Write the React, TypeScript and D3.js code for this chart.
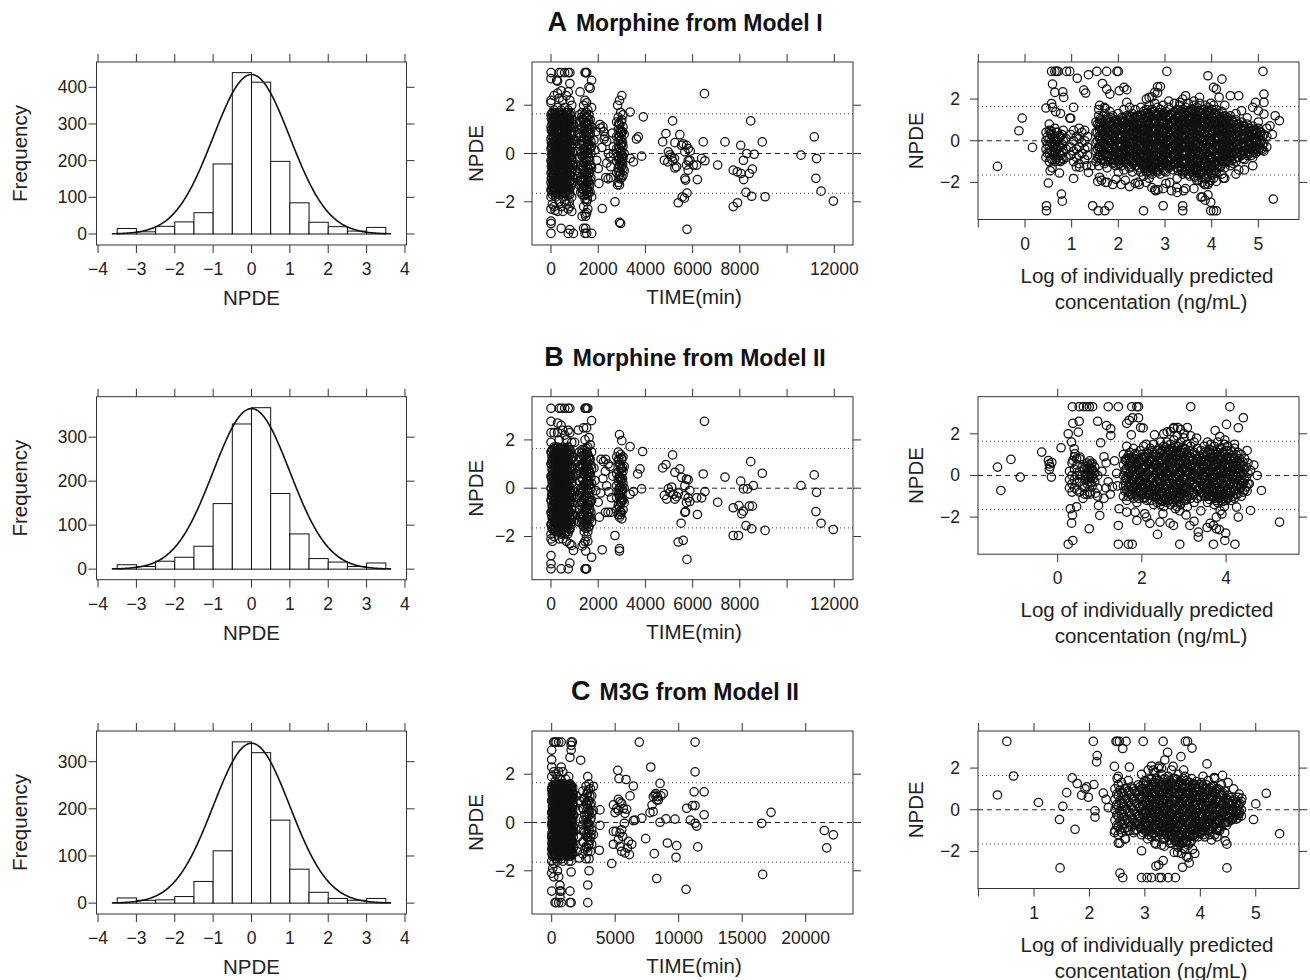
import React from "react";
import * as d3 from "d3";

// ---------------- DATA ----------------
const HIST_BREAKS = [-3.5, -3, -2.5, -2, -1.5, -1, -0.5, 0, 0.5, 1, 1.5, 2, 2.5, 3, 3.5];
const HIST_COUNTS_A = [15, 6, 21, 33, 58, 191, 440, 414, 198, 85, 32, 20, 8, 18];
const HIST_COUNTS_B = [10, 6, 18, 27, 52, 149, 330, 367, 172, 80, 24, 16, 6, 14];
const HIST_COUNTS_C = [11, 6, 7, 14, 46, 111, 342, 319, 176, 72, 23, 10, 6, 10];
const CURVE_PEAK_A = 435;
const CURVE_PEAK_B = 365;
const CURVE_PEAK_C = 339;
const CURVE_RANGE = [-3.64, 3.65];

const HIST_X_TICKS = [-4, -3, -2, -1, 0, 1, 2, 3, 4];
const FREQ_TICKS_A = [0, 100, 200, 300, 400];
const FREQ_TICKS_BC = [0, 100, 200, 300];
const NPDE_TICKS = [-2, 0, 2];
const TIME_TICKS_AB = [0, 2000, 4000, 6000, 8000, 10000, 12000];
const TIME_LABELS_AB = ["0", "2000", "4000", "6000", "8000", "", "12000"];
const TIME_TICKS_C = [0, 5000, 10000, 15000, 20000];
const TIME_LABELS_C = ["0", "5000", "10000", "15000", "20000"];
const LOGC_TICKS_A = [-1, 0, 1, 2, 3, 4, 5];
const LOGC_LABELS_A = ["", "0", "1", "2", "3", "4", "5"];
const LOGC_TICKS_B = [0, 2, 4];
const LOGC_LABELS_B = ["0", "2", "4"];
const LOGC_TICKS_C = [0, 1, 2, 3, 4, 5];
const LOGC_LABELS_C = ["", "1", "2", "3", "4", "5"];
const NPDE_REF = 1.645;

// columns: [x, npde, npde, ...]
const TIME_NPDE_A: number[][] = [
  [0, 3.35, 3.1, 2.2, 2.1, 1.6, 1.1, 0.6, 0.2, -0.3, -0.8, -1.2, -1.5, -1.8, -2.3, -2.8, -2.9, -3.31],
  [30, 1.0, 0.3, -0.4, -1.0],
  [60, 1.7, 1.3, 0.9, 0.4, 0, -0.5, -0.9, -1.4, -1.7, -2.1],
  [100, 1.5, 0.6, -0.1, -0.6, -1.2],
  [130, 2.4, 1.8, 1.4, 1.0, 0.5, 0.1, -0.3, -0.7, -1.1, -1.6, -2.2],
  [170, 1.1, 0.3, -0.4, -1.5, -2.35],
  [200, 1.6, 1.2, 0.7, 0.3, -0.2, -0.6, -1.0, -1.3, -1.8],
  [240, 3.03, 1.3, 0.9, 0.2, -0.5, -1.2],
  [280, 3.0, 2.5, 1.9, 1.5, 1.0, 0.6, 0.0, -0.4, -0.9, -1.4, -1.7, -2.4],
  [320, 1.4, 0.5, -0.3, -0.8, -1.4],
  [350, 3.35, 2.3, 1.7, 1.2, 0.8, 0.3, -0.1, -0.5, -1.2, -1.6, -2.0],
  [390, 1.5, 0.6, 0.1, -0.8, -1.3],
  [430, 3.35, 2.6, 1.8, 1.4, 0.9, 0.4, 0.0, -0.6, -1.0, -1.5, -2.2, -3.1],
  [470, 1.2, 0.4, -0.3, -1.2],
  [500, 2.2, 1.6, 1.1, 0.7, 0.2, -0.3, -0.8, -1.3, -1.8, -2.4],
  [540, 1.4, 0.5, -0.1, -1.0, -1.6],
  [580, 3.35, 1.9, 1.5, 1.0, 0.5, 0.1, -0.4, -0.9, -1.4, -2.0],
  [620, 1.2, 0.7, -0.1, -0.6, -1.2],
  [650, 2.4, 1.7, 1.3, 0.8, 0.3, -0.2, -0.7, -1.1, -1.6, -2.1],
  [690, 1.5, 0.9, 0.1, -0.4, -1.3],
  [730, 3.35, 2.55, 1.8, 1.2, 0.6, 0.0, -0.5, -1.0, -1.5, -2.3, -3.31],
  [770, 1.4, 0.3, -0.2, -1.2, -2.0],
  [800, 3.35, 2.9, 2.2, 1.6, 1.1, 0.5, 0.1, -0.4, -0.9, -1.7, -2.2, -3.15],
  [840, 1.7, 0.8, -0.1, -0.6, -1.1],
  [880, 2.0, 1.4, 0.9, 0.3, -0.3, -0.8, -1.3, -1.8, -2.4],
  [950, 1.2, 0.4, -0.5, -1.2, -3.31],
  [1050, 0.5, -0.7],
  [1100, 1.3, -0.2],
  [1230, 2.55],
  [1200, 1.6, 1.0, 0.4, -0.2, -0.8, -1.3],
  [1260, 1.3, 0.7, 0.1, -0.5, -1.1, -1.6],
  [1320, 1.7, 1.1, 0.5, -0.1, -0.7, -1.2, -1.7, -2.6],
  [1380, 2.0, 1.4, 0.8, 0.2, -0.4, -1.0, -1.5, -2.2, -3.1],
  [1440, 3.35, 2.2, 1.6, 1.0, 0.4, -0.2, -0.8, -1.3, -1.9, -2.5, -3.31],
  [1470, 3.35, 1.3, 0.1, -0.5, -1.1, -2.6, -3.1],
  [1510, 3.35, 2.1, 1.5, 0.9, 0.3, -0.3, -0.9, -1.5, -2.0, -2.45, -3.31],
  [1560, 1.8, 1.2, 0.6, 0.0, -0.6, -1.2, -1.7, -2.3],
  [1610, 2.76, 1.6, 1.0, 0.4, -0.2, -0.8, -1.4],
  [1660, 2.7, 1.4, 0.8, 0.2, -0.5, -1.1, -1.6],
  [1720, 3.03, 1.9, 1.1, 0.3, -0.6, -1.8, -3.31],
  [1820, 0.55], [1865, 0.14], [1935, -0.28], [2000, -0.62], [2030, -1.24], [2170, -2.28],
  [2070, 1.2], [2100, 1.05], [2200, 1.1], [2230, 0.9], [2280, 0.7], [2360, 0.5],
  [2320, -1.0], [2420, -1.05], [2530, -1.0], [2360, -0.4], [2430, 0.0], [2500, -0.15],
  [2530, -0.55], [2640, 0.0], [2640, 0.28], [2710, -2.0], [1900, 0.9], [2150, 0.25],
  [2250, 0.6], [2600, 0.85],
  [2780, 1.3, 0.7, 0.2, -0.3, -0.8],
  [2820, 2.0, -1.3],
  [2850, 1.5, 1.0, 0.5, -0.1, -0.6, -1.2],
  [2900, 2.2, 1.2, 0.7, 0.2, -0.2, -0.5, -0.9, -1.3, -2.85],
  [2950, 1.7, 0.9, 0.4, 0.0, -0.4, -0.8, -2.9],
  [3000, 2.4, 1.4, 0.6, 0.1, -0.3, -1.0],
  [3050, 1.6, 1.1, 0.3, -0.2, -0.6, -0.9],
  [3100, 0.8, 0.0, -0.7],
  [3350, 1.72, -0.2], [3700, 0.69], [3620, 0.6], [3490, -0.35], [3910, 1.52], [3840, -0.11],
  [4730, 0.48], [4870, 0.83], [4800, -0.28], [4970, 0.07], [5040, -0.05], [5110, -0.15],
  [5150, -0.3, 1.35], [5230, -0.2], [5250, 0.45, -0.6], [5320, -0.55], [5460, 0.78], [5530, 0.34],
  [5740, 0.34, -0.48], [5810, 0.2, -0.3, -0.69], [5670, 0.07, -1.03], [5880, -0.28], [6030, -0.48],
  [5700, -1.1], [5560, -1.8], [5390, -2.04], [5760, -1.64, -3.14], [5650, -1.85],
  [6200, -1.08], [6170, -0.48], [6380, -0.2], [6520, -0.3], [6450, 0.48], [6500, 2.48],
  [7060, -0.48], [7370, 0.48], [7720, -0.69, -2.2], [7890, -0.76], [8050, -0.83], [8150, -0.28],
  [8035, 0.34], [8460, 1.35], [8290, 0.0], [8610, -0.03], [8400, -0.83], [8530, -0.65],
  [8500, -1.77], [8260, -1.61], [7900, -2.04], [8950, 0.48], [9070, -1.79], [8160, -1.08],
  [10590, -0.07], [11150, 0.69], [11250, -0.21], [11220, -1.03], [11440, -1.56], [11960, -1.97],
  [5600, 0.4], [5900, 0.1], [4950, -0.35],
];
const TIME_NPDE_A_CORE: number[][] = [
  [15, 1.45, 0.95, 0.45, -0.05, -0.55, -1.05, -1.55],
  [45, 1.65, 1.2, 0.7, 0.2, -0.3, -0.8, -1.3],
  [80, 1.35, 0.85, 0.35, -0.15, -0.65, -1.15, -1.6],
  [115, 1.6, 1.1, 0.6, 0.1, -0.4, -0.9, -1.4],
  [150, 1.5, 1.0, 0.5, 0.0, -0.5, -1.0, -1.45],
  [185, 1.7, 1.25, 0.75, 0.25, -0.25, -0.75, -1.25, -1.7],
  [220, 1.4, 0.9, 0.4, -0.1, -0.6, -1.1, -1.55],
  [260, 1.65, 1.15, 0.65, 0.15, -0.35, -0.85, -1.35],
  [300, 1.45, 0.95, 0.45, -0.05, -0.55, -1.05, -1.6],
  [335, 1.6, 1.05, 0.55, 0.05, -0.45, -0.95, -1.45],
  [370, 1.35, 0.85, 0.35, -0.15, -0.65, -1.15, -1.7],
  [410, 1.7, 1.2, 0.7, 0.2, -0.3, -0.8, -1.3],
  [450, 1.5, 1.0, 0.5, 0.0, -0.5, -1.0, -1.5],
  [490, 1.4, 0.9, 0.35, -0.15, -0.65, -1.15, -1.6],
  [520, 1.65, 1.15, 0.65, 0.15, -0.35, -0.85, -1.35],
  [560, 1.55, 1.05, 0.55, 0.05, -0.45, -0.95, -1.45],
  [600, 1.35, 0.85, 0.4, -0.1, -0.6, -1.1, -1.65],
  [640, 1.6, 1.1, 0.6, 0.1, -0.4, -0.9, -1.4],
  [670, 1.45, 0.95, 0.45, -0.05, -0.55, -1.05, -1.55],
  [710, 1.7, 1.2, 0.7, 0.2, -0.3, -0.8, -1.3, -1.75],
  [750, 1.5, 1.0, 0.5, 0.0, -0.5, -1.0, -1.5],
  [790, 1.35, 0.85, 0.35, -0.15, -0.65, -1.15, -1.6],
  [820, 1.6, 1.1, 0.6, 0.1, -0.4, -0.9, -1.4],
  [860, 1.25, 0.75, 0.25, -0.25, -0.75, -1.25],
  [900, 1.1, 0.55, 0.05, -0.45, -0.95],
  [1230, 1.35, 0.85, 0.35, -0.15, -0.65, -1.15],
  [1290, 1.5, 1.0, 0.5, 0.0, -0.5, -1.0, -1.45],
  [1350, 1.4, 0.9, 0.4, -0.1, -0.6, -1.1, -1.5],
  [1410, 1.6, 1.15, 0.65, 0.15, -0.35, -0.85, -1.35, -1.75],
  [1490, 1.7, 1.25, 0.75, 0.25, -0.25, -0.75, -1.25, -1.7],
  [1540, 1.5, 1.0, 0.5, 0.0, -0.5, -1.0, -1.45, -1.9],
  [1590, 1.35, 0.85, 0.35, -0.15, -0.65, -1.15, -1.6],
  [1640, 1.2, 0.7, 0.2, -0.3, -0.8, -1.3],
  [1690, 1.0, 0.5, 0.0, -0.5, -1.0],
  [2870, 1.25, 0.75, 0.25, -0.25, -0.75],
  [2930, 1.0, 0.55, 0.1, -0.35, -1.05],
  [2980, 1.3, 0.85, 0.35, -0.15, -0.55],
  [3030, 0.9, 0.45, -0.1, -0.45],
];

const TIME_NPDE_B: number[][] = [
  [0, 3.31, 2.77, 2.3, 1.9, 1.5, 1.0, 0.5, 0.0, -0.5, -1.0, -1.5, -1.9, -2.1, -2.79, -3.13, -3.34],
  [30, 1.1, 0.4, -0.3, -1.1],
  [60, 1.6, 1.2, 0.7, 0.2, -0.3, -0.8, -1.3, -1.7, -2.2],
  [100, 1.4, 0.5, -0.1, -0.9],
  [130, 2.3, 1.7, 1.3, 0.8, 0.3, -0.2, -0.7, -1.2, -1.6, -2.0],
  [170, 0.9, 0.1, -0.6, -1.2],
  [200, 1.5, 1.0, 0.5, 0.0, -0.4, -0.9, -1.4, -1.8],
  [240, 1.3, 0.6, -0.1, -1.0],
  [280, 2.7, 2.3, 1.7, 1.2, 0.7, 0.2, -0.3, -0.8, -1.3, -1.7],
  [320, 1.2, 0.4, -0.4, -1.0],
  [350, 3.31, 2.0, 1.5, 1.0, 0.4, -0.1, -0.6, -1.1, -1.6, -2.1],
  [390, 1.4, 0.7, -0.2, -1.3],
  [430, 3.31, 2.6, 1.6, 1.1, 0.6, 0.1, -0.4, -0.9, -1.5, -1.9, -3.34],
  [470, 1.0, 0.3, -0.6, -1.2],
  [500, 2.4, 1.7, 1.2, 0.8, 0.3, -0.2, -0.7, -1.2, -1.7, -2.1],
  [540, 1.5, 0.5, -0.3, -0.9],
  [580, 3.31, 2.2, 1.6, 1.0, 0.5, 0.0, -0.5, -1.0, -1.5, -1.9],
  [620, 1.3, 0.3, -0.2, -1.1],
  [650, 2.0, 1.5, 1.1, 0.6, 0.1, -0.4, -0.9, -1.4, -1.8, -2.2],
  [690, 0.9, 0.0, -0.7, -1.5],
  [730, 3.31, 2.4, 1.7, 1.2, 0.7, 0.2, -0.3, -0.8, -1.3, -1.8, -3.34],
  [770, 1.4, 0.5, -0.4, -1.0],
  [800, 3.31, 2.3, 1.6, 1.0, 0.4, -0.1, -0.6, -1.2, -1.7, -2.3, -3.1],
  [840, 1.2, 0.6, -0.2, -1.3],
  [880, 1.9, 1.3, 0.8, 0.2, -0.4, -0.9, -1.5, -2.37],
  [950, 1.3, 0.5, -0.3, -1.1, -2.58],
  [1000, 1.9], [1050, 0.6], [1100, -0.4], [1160, 2.41],
  [1200, 1.5, 0.9, 0.3, -0.3, -0.9, -1.4],
  [1260, 1.2, 0.6, 0.0, -0.6, -1.2],
  [1320, 1.6, 1.0, 0.4, -0.2, -0.8, -1.3, -2.4],
  [1380, 2.5, 1.3, 0.7, 0.1, -0.5, -1.1, -1.6, -2.3],
  [1440, 3.31, 2.0, 1.4, 0.8, 0.2, -0.4, -1.0, -1.5, -2.2, -3.34],
  [1470, 3.31, 1.1, 0.0, -0.7, -2.6, -3.34],
  [1510, 3.31, 2.5, 1.5, 0.9, 0.3, -0.3, -0.9, -1.4, -2.0, -3.34],
  [1560, 3.31, 1.7, 1.1, 0.5, -0.1, -0.7, -1.2, -1.8, -2.2],
  [1610, 2.1, 1.3, 0.7, 0.1, -0.5, -1.0, -1.6],
  [1660, 1.8, 1.2, 0.6, 0.0, -0.6, -1.2],
  [1720, 2.8, 1.5, 0.8, 0.2, -0.5, -1.4, -2.86],
  [1820, 0.83], [1865, 0.32], [1900, -0.1], [2000, -0.58], [2050, -1.2], [2170, -2.55],
  [2120, 1.2], [2220, 1.1], [2310, 1.2, -1.0], [2420, 1.0, -1.0], [2500, 0.9], [2530, -1.0],
  [2360, 0.1], [2450, -0.15], [2560, -0.4], [2710, -1.96], [2200, 0.4], [2100, -0.2],
  [2620, 0.5], [2300, 0.7],
  [2780, 1.3, 0.6, 0.1, -0.4, -0.9],
  [2850, 1.5, 1.1, 0.4, -0.1, -0.7, -1.1],
  [2900, 2.22, 1.0, 0.5, 0.0, -0.3, -0.8, -1.2, -2.5, -2.6],
  [2950, 1.4, 0.8, 0.3, -0.2, -0.6, -1.1],
  [3000, 1.97, 1.2, 0.6, 0.1, -0.4, -1.27],
  [3050, 1.3, 0.7, 0.2, -0.5, -0.9],
  [3100, 0.9, 0.0, -0.6],
  [3350, 1.72, -0.25], [3670, 0.59], [3770, 0.8], [3490, -0.14], [3880, 1.52], [3840, -0.03],
  [4730, 0.84], [4870, 0.98], [4800, -0.3], [4970, -0.03], [5040, -0.17], [5110, 0.05],
  [5180, -0.25], [5250, -0.45, 0.66], [5320, -0.35], [5150, 1.38], [5460, 0.8], [5530, 0.45],
  [5740, 0.38, -0.6], [5810, 0.35, -0.4], [5670, 0.1, -0.3, -1.0], [5880, -0.1, -0.55], [5700, -0.97],
  [5510, -1.45], [5390, -2.23], [5600, -2.16], [5760, -2.95],
  [6200, -1.09], [6170, -0.4], [6380, -0.4], [6520, -0.14], [6450, 0.59], [6500, 2.77],
  [7060, -0.58], [7370, 0.46], [7720, -0.81, -1.96], [7960, -0.72], [8080, -1.06], [8150, -0.95, -0.03],
  [8035, 0.29], [8460, 1.1], [8320, -0.03], [8570, 0.11], [8400, -0.74], [8530, -0.74],
  [8500, -1.68], [8260, -1.55], [7940, -1.96], [8950, 0.62], [9070, -1.75],
  [10590, 0.11], [11150, 0.55], [11250, -0.17], [11220, -0.97], [11440, -1.45], [11960, -1.71],
  [4900, -0.45], [5400, -0.2],
];
const TIME_NPDE_B_CORE: number[][] = [
  [15, 1.5, 1.0, 0.5, 0.0, -0.5, -1.0, -1.5],
  [45, 1.3, 0.8, 0.3, -0.2, -0.7, -1.2, -1.65],
  [80, 1.6, 1.1, 0.6, 0.1, -0.4, -0.9, -1.4],
  [115, 1.4, 0.95, 0.45, -0.05, -0.55, -1.05, -1.55],
  [150, 1.65, 1.15, 0.65, 0.15, -0.35, -0.85, -1.35, -1.75],
  [185, 1.35, 0.85, 0.35, -0.15, -0.65, -1.15, -1.6],
  [220, 1.55, 1.05, 0.55, 0.05, -0.45, -0.95, -1.45],
  [260, 1.45, 0.95, 0.4, -0.1, -0.6, -1.1, -1.55],
  [300, 1.6, 1.1, 0.6, 0.1, -0.4, -0.9, -1.4, -1.8],
  [335, 1.3, 0.8, 0.3, -0.2, -0.7, -1.2, -1.65],
  [370, 1.65, 1.15, 0.65, 0.15, -0.35, -0.85, -1.35],
  [410, 1.45, 0.95, 0.45, -0.05, -0.55, -1.05, -1.5],
  [450, 1.6, 1.05, 0.55, 0.05, -0.45, -0.95, -1.45, -1.85],
  [490, 1.35, 0.85, 0.35, -0.15, -0.65, -1.15, -1.6],
  [520, 1.55, 1.05, 0.5, 0.0, -0.5, -1.0, -1.5],
  [560, 1.4, 0.9, 0.4, -0.1, -0.6, -1.1, -1.55],
  [600, 1.65, 1.15, 0.65, 0.15, -0.35, -0.85, -1.35, -1.75],
  [640, 1.3, 0.8, 0.3, -0.2, -0.7, -1.2, -1.6],
  [670, 1.55, 1.05, 0.55, 0.05, -0.45, -0.95, -1.45],
  [710, 1.45, 0.95, 0.45, -0.05, -0.55, -1.05, -1.55, -1.9],
  [750, 1.6, 1.1, 0.6, 0.1, -0.4, -0.9, -1.4],
  [790, 1.35, 0.85, 0.35, -0.15, -0.65, -1.15, -1.65],
  [820, 1.5, 1.0, 0.5, 0.0, -0.5, -1.0, -1.5],
  [860, 1.2, 0.7, 0.2, -0.3, -0.8, -1.3],
  [900, 0.9, 0.4, -0.1, -0.6, -1.1],
  [1230, 1.3, 0.8, 0.3, -0.2, -0.7, -1.15],
  [1290, 1.45, 0.95, 0.45, -0.05, -0.55, -1.05, -1.4],
  [1350, 1.35, 0.85, 0.35, -0.15, -0.65, -1.1, -1.55],
  [1410, 1.6, 1.1, 0.6, 0.1, -0.4, -0.9, -1.35, -1.8],
  [1490, 1.65, 1.2, 0.7, 0.2, -0.3, -0.8, -1.25, -1.65],
  [1540, 1.45, 0.95, 0.45, -0.05, -0.55, -1.05, -1.5],
  [1590, 1.3, 0.8, 0.3, -0.2, -0.7, -1.2, -1.6],
  [1640, 1.15, 0.65, 0.15, -0.35, -0.85, -1.3],
  [1690, 0.95, 0.45, -0.05, -0.55, -1.0],
  [2870, 1.2, 0.7, 0.25, -0.25, -0.7],
  [2930, 0.95, 0.45, 0.05, -0.4, -0.95],
  [2980, 1.25, 0.8, 0.35, -0.1, -0.55, -1.0],
  [3030, 0.85, 0.4, -0.05, -0.45],
];

const TIME_NPDE_C: number[][] = [
  [0, 3.0, 2.6, 2.3, 1.9, 1.4, 0.9, 0.4, -0.1, -0.6, -1.1, -1.6, -2.1, -2.84],
  [40, 1.2, 0.2, -0.8],
  [80, 1.5, 1.0, 0.5, 0.0, -0.5, -1.0, -1.4, -1.9],
  [160, 3.33, 2.1, 1.3, 0.8, 0.3, -0.2, -0.7, -1.2, -1.7, -2.25],
  [200, 1.0, 0.0, -1.0],
  [260, 3.33, 1.7, 1.2, 0.7, 0.2, -0.3, -0.8, -1.3, -3.32],
  [300, 0.9, 0.4, -0.5],
  [350, 3.33, 2.0, 1.5, 1.0, 0.5, 0.0, -0.5, -1.0, -1.5, -3.32],
  [400, 1.2, 0.2, -0.7],
  [450, 1.9, 1.4, 0.9, 0.4, -0.1, -0.6, -1.1, -1.6, -2.0],
  [500, 0.8, -0.2, -1.2],
  [550, 3.33, 2.1, 1.6, 1.1, 0.6, 0.1, -0.4, -0.9, -1.4, -2.25, -3.32],
  [600, 1.2, 0.3, -0.6],
  [650, 1.8, 1.3, 0.8, 0.3, -0.2, -0.7, -1.2, -2.6, -2.84, -3.1],
  [700, 0.8, -0.1, -0.9],
  [750, 3.33, 2.3, 1.5, 1.0, 0.5, 0.0, -0.5, -1.0, -1.5, -2.84, -3.32],
  [810, 1.2, 0.2, -0.8],
  [870, 2.1, 1.4, 0.9, 0.4, -0.1, -0.6, -1.1, -1.6],
  [920, 0.8, -0.2, -1.0],
  [980, 1.6, 1.1, 0.6, 0.1, -0.4, -0.9, -1.3],
  [1040, 1.2, 0.3, -0.6],
  [1100, 1.8, 1.3, 0.8, 0.3, -0.2, -0.7, -1.2],
  [1160, 0.9, -0.1, -0.9],
  [1220, 1.5, 1.0, 0.5, 0.0, -0.5, -1.0, -1.4],
  [1280, 1.1, 0.2, -0.8],
  [1340, 1.9, 1.2, 0.7, 0.2, -0.3, -0.8, -1.3, -1.6],
  [1390, 0.9, -0.1, -1.0],
  [1440, 2.7, 1.6, 1.1, 0.6, 0.1, -0.4, -0.9, -1.4, -2.84, -3.32],
  [1530, 3.33, 3.2, 3.0, 1.4, 0.9, 0.4, -0.1, -0.6, -1.1, -1.6, -2.05, -3.32],
  [1580, 1.0, 0.1, -0.8],
  [1630, 3.33, 1.2, 0.7, 0.2, -0.3, -0.8, -1.3],
  [1690, 0.7, -0.2],
  [1750, 1.0, 0.3, -0.4, -1.0],
  [1950, 1.1], [2050, -0.6], [2100, 0.5], [2180, -1.47], [2280, 2.58], [2200, 0.9], [2000, -1.2], [2300, -0.3],
  [2450, 1.3, 0.6, -0.1, -0.8, -1.3],
  [2600, 1.0, 0.3, -0.4, -1.1],
  [2700, 1.5, 0.8, 0.1, -0.5, -1.0, -1.5],
  [2840, 1.9, 1.2, 0.6, 0.0, -0.6, -1.2, -2.59, -3.32],
  [2940, 1.6, 0.9, 0.3, -0.3, -0.9, -1.5, -2.0],
  [3050, 1.4, 0.7, 0.1, -0.6, -1.2],
  [3150, 1.1, 0.4, -0.3, -0.9],
  [3280, 1.5, 0.5, -0.5],
  [3800, 0.52, -0.12], [3750, -1.15], [4725, -1.7], [4860, -0.37, -0.9, 0.73], [5070, -0.37],
  [5200, 2.16], [5300, 1.82], [5850, 1.78], [6430, 1.51, 0.08], [6170, 1.1], [4990, 0.41],
  [5120, 0.58], [5380, 0.86, -0.44, -0.99], [5510, 0.79, -0.3, -1.19], [5640, 0.58], [5770, 0.38, -1.26],
  [5250, 0.96, -0.71, 0.5], [5720, -0.03], [5590, -0.58], [5960, -1.06], [6040, -0.78], [6120, -1.33],
  [6560, 0.1], [7090, 0.18], [7400, -0.67], [7740, 0.41], [7800, 2.3], [7990, 0.45], [7900, 0.72],
  [8000, 1.07], [8140, 1.14], [8330, 1.07], [8400, 0.93], [8270, 0.93, -2.32], [8530, 1.62, 0.01],
  [8080, -1.29], [8790, 1.2], [9000, 0.15], [9110, -0.85], [9710, 0.14], [9840, -0.96], [9790, -1.44],
  [10580, -2.77], [10630, 0.59], [10920, 0.1], [11080, 0.7], [11210, 1.27], [11290, 2.1, 0.7, -0.03, 3.33],
  [11420, -0.15], [11500, -1.01], [12000, 1.27, 0.32], [16540, -0.03], [17270, 0.42], [16610, -2.15],
  [21470, -0.33], [22180, -0.51], [21650, -1.05], [6900, 3.33], [6300, -0.9], [5900, 0.55],
  [8600, 1.1], [8200, 1.2],
];
const TIME_NPDE_C_CORE: number[][] = [
  [20, 1.35, 0.9, 0.45, 0.0, -0.45, -0.9, -1.3],
  [60, 1.5, 1.1, 0.65, 0.2, -0.25, -0.7, -1.1],
  [120, 1.3, 0.85, 0.4, -0.05, -0.5, -0.95, -1.35],
  [180, 1.55, 1.15, 0.7, 0.25, -0.2, -0.65, -1.1],
  [220, 1.4, 0.95, 0.5, 0.05, -0.4, -0.85, -1.3],
  [280, 1.5, 1.05, 0.6, 0.15, -0.3, -0.75, -1.2],
  [320, 1.35, 0.9, 0.45, 0.0, -0.45, -0.9, -1.35],
  [380, 1.55, 1.1, 0.65, 0.2, -0.25, -0.7, -1.15],
  [420, 1.3, 0.85, 0.4, -0.05, -0.5, -0.95, -1.4],
  [480, 1.5, 1.05, 0.6, 0.15, -0.3, -0.75, -1.2],
  [520, 1.4, 0.95, 0.5, 0.05, -0.4, -0.85, -1.3],
  [580, 1.55, 1.15, 0.7, 0.25, -0.2, -0.65, -1.1],
  [620, 1.35, 0.9, 0.45, 0.0, -0.45, -0.9, -1.35],
  [680, 1.5, 1.05, 0.6, 0.15, -0.3, -0.75, -1.2],
  [720, 1.3, 0.85, 0.4, -0.05, -0.5, -0.95, -1.4],
  [780, 1.55, 1.1, 0.65, 0.2, -0.25, -0.7, -1.15],
  [820, 1.4, 0.95, 0.5, 0.05, -0.4, -0.85, -1.3],
  [890, 1.5, 1.05, 0.6, 0.15, -0.3, -0.75, -1.2],
  [930, 1.35, 0.9, 0.45, 0.0, -0.45, -0.9, -1.35],
  [1000, 1.55, 1.15, 0.7, 0.25, -0.2, -0.65, -1.1],
  [1050, 1.3, 0.85, 0.4, -0.05, -0.5, -0.95, -1.3],
  [1120, 1.45, 1.0, 0.55, 0.1, -0.35, -0.8, -1.25],
  [1170, 1.35, 0.9, 0.45, 0.0, -0.45, -0.9, -1.35],
  [1240, 1.55, 1.1, 0.65, 0.2, -0.25, -0.7, -1.15],
  [1300, 1.4, 0.95, 0.5, 0.05, -0.4, -0.85, -1.3],
  [1360, 1.5, 1.05, 0.6, 0.15, -0.3, -0.75, -1.2],
  [1410, 1.3, 0.85, 0.4, -0.05, -0.5, -0.95, -1.4],
  [1470, 1.55, 1.15, 0.7, 0.25, -0.2, -0.65, -1.1],
  [1500, 1.4, 0.95, 0.5, 0.05, -0.4, -0.85, -1.3],
  [1560, 1.5, 1.05, 0.6, 0.15, -0.3, -0.75, -1.2],
  [1600, 1.3, 0.9, 0.45, 0.0, -0.45, -0.9, -1.35],
  [1660, 1.45, 1.0, 0.55, 0.1, -0.35, -0.8, -1.25],
  [1700, 1.2, 0.75, 0.3, -0.15, -0.6, -1.05],
  [2500, 1.0, 0.55, 0.1, -0.35, -0.8],
  [2780, 1.2, 0.75, 0.3, -0.15, -0.6, -1.05],
  [2890, 1.35, 0.9, 0.45, -0.05, -0.45, -0.95],
  [3000, 1.1, 0.5, -0.1, -0.75],
  [3100, 0.8, 0.2, -0.5],
];

const LOGC_NPDE_A: number[][] = [
  [-0.59, -1.23], [-0.13, 0.48], [-0.06, 1.09], [0.16, -0.32],
  [0.45, 0.4, 0.0, -0.4, -0.8, 1.57],
  [0.52, 0.5, 0.1, -0.2, -0.6, -1.0, 0.8],
  [0.58, 0.3, -0.1, -0.5, -0.9, -1.3],
  [0.64, 0.6, 0.2, -0.2, -0.6, -1.0, 2.32],
  [0.70, 0.4, 0.0, -0.4, -0.8],
  [0.76, 0.2, -0.3, -0.7, -1.0, 1.31],
  [0.82, 0.5, 0.0, -0.5, -0.9],
  [0.88, 0.1, -0.4, -0.8],
  [0.98, 0.3, -0.3, -0.7, 1.08],
  [1.04, 0.5, 0.0, -0.5, -1.0, -1.81, 1.6],
  [1.10, 0.2, -0.4, -0.8, -1.25],
  [1.16, 0.6, 0.1, -0.3, -0.7, -1.1],
  [1.22, 0.4, -0.1, -0.6],
  [1.28, 0.5, 0.0, -0.4, -0.9],
  [1.34, 0.2, -0.3, -0.7],
  [0.57, 1.79, 3.33], [0.59, 1.6, 2.72], [0.66, 1.39], [0.56, 0.48], [0.81, 2.35], [0.83, 2.08],
  [1.12, 3.0], [1.26, 2.43], [1.3, 2.29], [1.36, 3.17], [0.64, 3.33], [0.68, 3.33], [0.71, 3.33],
  [0.89, 3.33], [0.96, 3.33, 1.09], [1.54, 3.33], [1.75, 3.33, 2.48], [1.97, 3.33], [2.0, 3.33],
  [3.04, 3.33], [5.1, 3.33],
  [0.5, -2.03], [0.46, -3.12, -3.36], [0.78, -2.56], [0.8, -2.9], [0.54, -1.44], [0.74, -1.55],
  [1.17, -1.27], [1.32, -1.2], [1.36, -1.52], [1.43, -1.2], [1.45, -3.12], [1.57, -3.36],
  [1.71, -3.36], [1.8, -3.12], [1.56, -1.95],
  [1.52, 0.9, 0.4, -0.1, -0.5, -1.0],
  [1.58, 1.5, 1.2, 0.7, 0.2, -0.3, -0.8, -1.2],
  [1.64, 1.0, 0.5, 0.0, -0.4, -0.9, -1.9],
  [1.70, 1.6, 1.3, 0.8, 0.3, -0.2, -0.6, -1.1],
  [1.76, 1.1, 0.6, 0.1, -0.3, -0.8, -1.3, -2.0],
  [1.82, 1.4, 0.9, 0.4, 0.0, -0.5, -1.0, 2.24],
  [1.88, 1.2, 0.7, 0.2, -0.2, -0.7, -1.1, -2.1],
  [1.94, 1.0, 0.5, 0.0, -0.4, -0.9, -1.2],
  [2.00, 1.3, 0.8, 0.3, -0.1, -0.6, -1.0, -1.5],
  [2.06, 1.1, 0.6, 0.1, -0.3, -0.8, -1.2, -2.1],
  [2.12, 1.5, 0.9, 0.4, 0.0, -0.5, -0.9, -1.4, 2.56],
  [2.18, 1.2, 0.7, 0.2, -0.2, -0.7, -1.1, 1.84, 2.45],
  [2.24, 1.6, 1.0, 0.5, 0.1, -0.4, -0.8, -1.3, -2.2],
  [2.30, 1.3, 0.8, 0.3, -0.1, -0.6, -1.0, -1.5],
  [2.36, 1.5, 1.1, 0.6, 0.2, -0.3, -0.7, -1.2, -2.05],
  [2.42, 1.2, 0.9, 0.4, 0.0, -0.5, -0.9, -1.4, -2.0],
  [2.48, 1.6, 1.2, 0.7, 0.3, -0.2, -0.6, -1.1, -1.5],
  [2.54, 1.4, 1.0, 0.5, 0.1, -0.3, -0.8, -1.2, -1.7, -3.36],
  [2.60, 2.0, 1.5, 1.1, 0.6, 0.2, -0.2, -0.7, -1.1, -1.5],
  [2.66, 1.7, 1.3, 0.8, 0.4, 0.0, -0.4, -0.9, -1.3, -1.8, 2.08],
  [2.72, 2.1, 1.5, 1.0, 0.6, 0.1, -0.3, -0.7, -1.2, -1.6, -2.25],
  [2.78, 1.8, 1.4, 0.9, 0.5, 0.0, -0.5, -0.9, -1.3, -2.35, 2.32],
  [2.84, 2.3, 1.6, 1.2, 0.7, 0.3, -0.2, -0.6, -1.0, -1.5, 2.59],
  [2.90, 2.6, 1.5, 1.0, 0.6, 0.1, -0.3, -0.8, -1.2, -1.6],
  [2.96, 1.7, 1.3, 0.8, 0.4, 0.0, -0.5, -0.9, -1.4, -2.3, -3.12],
  [3.02, 1.4, 1.1, 0.6, 0.2, -0.2, -0.6, -1.1, -1.5, -2.05],
  [3.08, 1.6, 1.2, 0.7, 0.3, -0.1, -0.5, -1.0, -1.3, 1.9],
  [3.14, 1.3, 0.9, 0.5, 0.1, -0.3, -0.8, -1.2, -2.4],
  [3.20, 1.8, 1.4, 1.0, 0.6, 0.2, -0.2, -0.7, -1.1],
  [3.26, 1.5, 1.1, 0.7, 0.3, -0.1, -0.5, -0.9, -1.3, -1.8, -2.48],
  [3.32, 1.7, 1.3, 0.9, 0.4, 0.0, -0.4, -0.8, -1.2, 1.85],
  [3.38, 2.0, 1.5, 1.0, 0.6, 0.2, -0.3, -0.7, -1.1, -1.6, -3.12, -3.36],
  [3.44, 1.6, 1.2, 0.8, 0.4, -0.1, -0.5, -0.9, -1.4, -2.3, 2.16],
  [3.50, 1.8, 1.4, 1.0, 0.5, 0.1, -0.3, -0.8, -1.2, -1.6],
  [3.56, 1.5, 1.1, 0.7, 0.3, -0.2, -0.6, -1.0, -1.5],
  [3.62, 1.7, 1.3, 0.9, 0.4, 0.0, -0.4, -0.8, -1.3, -1.7, 1.9, -2.3],
  [3.68, 1.6, 1.2, 0.8, 0.3, -0.1, -0.5, -1.0, -1.4, -1.9],
  [3.74, 1.8, 1.4, 0.9, 0.5, 0.1, -0.3, -0.7, -1.2, -1.6, 2.08],
  [3.80, 1.5, 1.1, 0.7, 0.2, -0.2, -0.6, -1.1, -1.5, -2.0, -2.7],
  [3.86, 1.7, 1.3, 0.8, 0.4, 0.0, -0.4, -0.9, -1.3, -1.8, -2.85, -2.1],
  [3.92, 1.6, 1.2, 1.0, 0.6, 0.1, -0.3, -0.7, -1.2, -1.6, -2.1, 3.12, -2.6],
  [3.98, 1.8, 1.4, 0.9, 0.5, 0.0, -0.5, -0.9, -1.4, -1.9, -3.36, -2.95],
  [4.04, 1.7, 1.3, 0.8, 0.4, -0.1, -0.5, -1.0, -1.4, -1.8, 2.56, -3.36],
  [4.10, 1.5, 1.1, 0.7, 0.2, -0.2, -0.7, -1.1, -1.5, 2.48, -1.95, -3.36],
  [4.16, 1.3, 0.9, 0.5, 0.1, -0.4, -0.8, -1.3, 2.08],
  [4.22, 1.4, 1.0, 0.6, 0.2, -0.2, -0.6, -1.0, -1.6, 2.96],
  [4.28, 1.2, 0.8, 0.4, 0.0, -0.5, -0.9, -1.3, -1.8, 1.7],
  [4.34, 1.1, 0.7, 0.3, -0.1, -0.5, -1.0],
  [4.40, 1.2, 0.8, 0.4, 0.0, -0.4, -0.8, -1.2, 2.16],
  [4.46, 0.9, 0.5, 0.1, -0.3, -0.7, -1.1],
  [4.52, 1.0, 0.6, 0.2, -0.2, -0.6, -1.0, 1.3, -1.6],
  [4.58, 0.8, 0.4, 0.0, -0.4, -0.8, -1.4, 2.16],
  [4.64, 0.9, 0.5, 0.1, -0.3, -0.7, 1.44],
  [4.70, 0.7, 0.3, -0.1, -0.5, -0.9, -1.4],
  [4.76, 0.8, 0.4, 0.0, -0.4, -0.7, 1.1],
  [4.82, 0.6, 0.2, -0.2, -0.6],
  [4.88, 0.7, 0.3, -0.1, -0.5, -0.8, 1.6, -1.2],
  [4.94, 0.5, 0.1, -0.3, -0.6, 1.84],
  [5.00, 0.6, 0.2, -0.2, -0.5, 1.44, 0.9],
  [5.06, 0.4, 0.0, -0.4],
  [5.12, 0.3, -0.1, -0.5, 1.28, 2.24, 1.84],
  [5.18, 0.2, -0.3, 0.6],
  [5.25, 0.72], [5.3, 0.3], [5.36, 1.2], [5.45, 0.96], [5.32, -2.8],
  [1.6, 1.7, -1.75], [1.72, 1.55, -2.0], [1.66, 2.75], [2.02, 2.4], [1.95, -1.85], [2.15, -1.9],
  [2.45, -2.1], [2.6, -2.0], [2.85, -2.35], [3.1, -2.0], [3.25, -2.25], [3.4, -2.4],
  [3.85, -2.1], [3.95, -2.0], [4.25, -1.8], [3.77, -2.7], [3.72, -1.9], [2.8, -2.4],
];
const LOGC_NPDE_A_CORE: number[][] = [
  [0.48, 0.2, -0.2, -0.6], [0.55, 0.35, -0.05, -0.45, -0.85], [0.61, 0.1, -0.3, -0.7],
  [0.67, 0.4, 0.0, -0.4, -0.9], [0.73, 0.15, -0.25, -0.6, -0.95], [0.79, 0.3, -0.15, -0.55, -0.85],
  [1.55, 0.8, 0.4, 0.0, -0.4, -0.8],
  [1.61, 1.05, 0.65, 0.25, -0.15, -0.55, -0.95],
  [1.67, 0.9, 0.5, 0.1, -0.3, -0.7],
  [1.73, 1.0, 0.6, 0.2, -0.2, -0.6, -1.0],
  [1.79, 0.85, 0.45, 0.05, -0.35, -0.75],
  [1.85, 1.1, 0.7, 0.3, -0.1, -0.5, -0.9],
  [1.91, 0.95, 0.55, 0.15, -0.25, -0.65, -1.05],
  [1.97, 1.0, 0.6, 0.2, -0.2, -0.6, -1.0],
  [2.03, 0.9, 0.5, 0.1, -0.3, -0.7, -1.1],
  [2.09, 1.05, 0.65, 0.25, -0.15, -0.55, -0.95],
  [2.15, 0.95, 0.55, 0.15, -0.25, -0.65, -1.05],
  [2.21, 1.1, 0.7, 0.3, -0.1, -0.5, -0.9],
  [2.27, 1.15, 0.75, 0.35, -0.05, -0.45, -0.85, -1.25],
  [2.33, 1.05, 0.65, 0.25, -0.15, -0.55, -0.95],
  [2.39, 1.2, 0.8, 0.4, 0.0, -0.4, -0.8, -1.2],
  [2.45, 1.0, 0.6, 0.2, -0.2, -0.6, -1.0, -1.3],
  [2.51, 1.25, 0.85, 0.45, 0.05, -0.35, -0.75, -1.15],
  [2.57, 1.3, 0.9, 0.5, 0.1, -0.3, -0.7, -1.1, -1.4],
  [2.63, 1.35, 0.95, 0.55, 0.15, -0.25, -0.65, -1.05, -1.45],
  [2.69, 1.25, 0.85, 0.45, 0.05, -0.35, -0.75, -1.15, -1.5],
  [2.75, 1.4, 1.0, 0.6, 0.2, -0.2, -0.6, -1.0, -1.4],
  [2.81, 1.3, 0.9, 0.5, 0.1, -0.3, -0.7, -1.1, -1.45],
  [2.87, 1.35, 0.95, 0.55, 0.15, -0.25, -0.65, -1.05, -1.4],
  [2.93, 1.25, 0.85, 0.45, 0.05, -0.35, -0.75, -1.15],
  [2.99, 1.3, 0.9, 0.5, 0.1, -0.3, -0.7, -1.1, -1.45],
  [3.05, 1.2, 0.8, 0.4, 0.0, -0.4, -0.8, -1.2],
  [3.11, 1.25, 0.85, 0.45, 0.05, -0.35, -0.75, -1.15],
  [3.17, 1.3, 0.9, 0.5, 0.1, -0.3, -0.7, -1.1, -1.4],
  [3.23, 1.35, 0.95, 0.55, 0.15, -0.25, -0.65, -1.05],
  [3.29, 1.3, 0.9, 0.5, 0.1, -0.3, -0.7, -1.1, -1.45],
  [3.35, 1.4, 1.0, 0.6, 0.2, -0.2, -0.6, -1.0, -1.4],
  [3.41, 1.35, 0.95, 0.55, 0.15, -0.25, -0.65, -1.05, -1.5],
  [3.47, 1.45, 1.05, 0.65, 0.25, -0.15, -0.55, -0.95, -1.35],
  [3.53, 1.4, 1.0, 0.6, 0.2, -0.2, -0.6, -1.0, -1.4, -1.7],
  [3.59, 1.5, 1.1, 0.7, 0.3, -0.1, -0.5, -0.9, -1.3],
  [3.65, 1.4, 1.0, 0.6, 0.2, -0.2, -0.6, -1.0, -1.4, -1.75],
  [3.71, 1.45, 1.05, 0.65, 0.25, -0.15, -0.55, -0.95, -1.35],
  [3.77, 1.35, 0.95, 0.55, 0.15, -0.25, -0.65, -1.05, -1.45, -1.75],
  [3.83, 1.5, 1.1, 0.7, 0.3, -0.1, -0.5, -0.9, -1.3],
  [3.89, 1.4, 1.0, 0.6, 0.2, -0.2, -0.6, -1.0, -1.4, -1.8],
  [3.95, 1.45, 1.05, 0.65, 0.25, -0.15, -0.55, -0.95, -1.35],
  [4.01, 1.5, 1.1, 0.7, 0.3, -0.1, -0.5, -0.9, -1.3, -1.65],
  [4.07, 1.35, 0.95, 0.55, 0.15, -0.25, -0.65, -1.05, -1.45],
  [4.13, 1.2, 0.8, 0.4, 0.0, -0.4, -0.8, -1.2],
  [4.19, 1.1, 0.7, 0.3, -0.1, -0.5, -0.9, -1.25],
  [4.25, 1.15, 0.75, 0.35, -0.05, -0.45, -0.85],
  [4.31, 1.0, 0.6, 0.2, -0.2, -0.6, -1.0],
  [4.37, 0.95, 0.55, 0.15, -0.25, -0.65, -1.05],
  [4.43, 1.0, 0.6, 0.2, -0.2, -0.6, -0.95],
  [4.49, 0.75, 0.35, -0.05, -0.45, -0.85],
  [4.55, 0.8, 0.4, 0.0, -0.4, -0.8],
  [4.61, 0.65, 0.25, -0.15, -0.55],
  [4.67, 0.7, 0.3, -0.1, -0.5, -0.85],
  [4.73, 0.55, 0.15, -0.25, -0.6],
  [4.79, 0.6, 0.2, -0.2, -0.55],
  [4.85, 0.45, 0.05, -0.35, -0.7],
  [4.91, 0.55, 0.15, -0.25, -0.55],
  [4.97, 0.4, 0.0, -0.4],
  [5.03, 0.45, 0.05, -0.35],
  [5.09, 0.2, -0.2, -0.45],
];
const LOGC_NPDE_A_DENSE: number[][] = [
  [1.60, 0.9, 0.5, 0.1, -0.3, -0.7],
  [1.68, 0.7, 0.3, -0.1, -0.5, -0.9],
  [1.76, 0.95, 0.55, 0.15, -0.25, -0.65],
  [1.84, 0.75, 0.35, -0.05, -0.45, -0.85],
  [1.92, 0.9, 0.5, 0.1, -0.3, -0.7],
  [2.00, 0.7, 0.3, -0.1, -0.5, -0.9],
  [2.08, 0.95, 0.55, 0.15, -0.25, -0.65],
  [2.16, 0.75, 0.35, -0.05, -0.45, -0.85],
  [2.24, 1.1, 0.7, 0.3, -0.1, -0.5, -0.9],
  [2.32, 0.9, 0.5, 0.1, -0.3, -0.7, -1.1],
  [2.40, 1.15, 0.75, 0.35, -0.05, -0.45, -0.85],
  [2.48, 0.95, 0.55, 0.15, -0.25, -0.65, -1.05],
  [2.56, 1.1, 0.7, 0.3, -0.1, -0.5, -0.9, -1.3],
  [2.64, 1.2, 0.8, 0.4, 0.0, -0.4, -0.8, -1.2],
  [2.72, 1.0, 0.6, 0.2, -0.2, -0.6, -1.0, -1.35],
  [2.80, 1.25, 0.85, 0.45, 0.05, -0.35, -0.75, -1.15],
  [2.88, 1.05, 0.65, 0.25, -0.15, -0.55, -0.95, -1.3],
  [2.96, 1.2, 0.8, 0.4, 0.0, -0.4, -0.8, -1.2],
  [3.04, 1.0, 0.6, 0.2, -0.2, -0.6, -1.0],
  [3.12, 1.1, 0.7, 0.3, -0.1, -0.5, -0.9, -1.2],
  [3.20, 0.95, 0.55, 0.15, -0.25, -0.65, -1.05],
  [3.28, 1.15, 0.75, 0.35, -0.05, -0.45, -0.85],
  [3.36, 1.0, 0.6, 0.2, -0.2, -0.6, -1.0, -1.3],
  [3.44, 1.3, 0.9, 0.5, 0.1, -0.3, -0.7, -1.1, -1.45],
  [3.52, 1.15, 0.75, 0.35, -0.05, -0.45, -0.85, -1.25],
  [3.60, 1.3, 0.9, 0.5, 0.1, -0.3, -0.7, -1.1, -1.5],
  [3.68, 1.1, 0.7, 0.3, -0.1, -0.5, -0.9, -1.3],
  [3.76, 1.3, 0.9, 0.5, 0.1, -0.3, -0.7, -1.1, -1.45],
  [3.84, 1.15, 0.75, 0.35, -0.05, -0.45, -0.85, -1.25, -1.6],
  [3.92, 1.3, 0.9, 0.5, 0.1, -0.3, -0.7, -1.1, -1.45],
  [4.00, 1.2, 0.8, 0.4, 0.0, -0.4, -0.8, -1.2, -1.55],
  [4.08, 1.3, 0.9, 0.5, 0.1, -0.3, -0.7, -1.1],
  [4.16, 1.0, 0.6, 0.2, -0.2, -0.6, -1.0],
  [4.24, 0.9, 0.5, 0.1, -0.3, -0.7, -1.1],
  [4.32, 1.0, 0.6, 0.2, -0.2, -0.6, -0.95],
  [4.40, 0.85, 0.45, 0.05, -0.35, -0.75],
  [4.48, 0.6, 0.2, -0.2, -0.6],
  [4.56, 0.65, 0.25, -0.15, -0.55],
  [4.64, 0.55, 0.15, -0.25, -0.65],
  [4.72, 0.5, 0.1, -0.3],
  [4.80, 0.45, 0.05, -0.35],
  [4.88, 0.5, 0.1, -0.3],
  [4.96, 0.35, -0.05, -0.4],
  [5.04, 0.25, -0.15],
];

const LOGC_NPDE_B: number[][] = [
  [-1.43, 0.4], [-1.35, -0.72], [-1.11, 0.77], [-0.89, -0.08], [-0.38, 1.12], [0.08, 1.33],
  [-0.22, 0.72], [-0.2, 0.55, 0.28], [-0.18, 0.42], [-0.14, 0.62], [-0.15, -0.08],
  [0.28, 0.2, -0.2, -0.6],
  [0.34, 0.6, 0.0, -0.4, -0.8],
  [0.40, 0.9, 0.3, -0.2, -0.6],
  [0.46, 0.5, 0.0, -0.3, -0.7],
  [0.52, 0.8, 0.2, -0.3, -0.8],
  [0.58, 0.4, 0.0, -0.5],
  [0.64, 0.3, -0.2, -0.6, -0.9],
  [0.70, 0.6, 0.3, 0.0, -0.4],
  [0.76, 0.7, 0.4, 0.1, -0.3, -0.8],
  [0.82, 0.6, 0.3, 0.0, -0.5],
  [0.88, 0.4, 0.1, -0.3],
  [0.95, 0.0, -0.6, -1.0],
  [0.25, 2.0, -3.3], [0.36, 2.5, 0.72, -3.12], [0.51, 2.6], [0.49, 2.08], [0.33, 1.6, -2.29],
  [0.39, 1.28], [0.41, 1.04], [0.45, 0.8, -1.5], [0.53, 0.88], [0.3, -1.6], [0.35, -1.9],
  [0.6, -1.1], [0.7, -0.9], [0.77, -0.9], [0.9, -0.85], [0.97, -1.44], [1.0, -1.92], [0.75, -2.56],
  [0.95, 2.6], [1.16, 2.4], [1.26, 2.24, 1.92], [1.02, 1.57], [1.1, 0.9, -1.1], [1.15, 0.6, -0.6],
  [1.05, 0.2], [1.2, -0.3], [1.3, -0.55], [1.25, -0.9], [1.35, 0.7], [1.4, 0.1], [1.42, -0.5],
  [0.35, 3.3], [0.51, 3.3], [0.61, 3.3], [0.69, 3.3], [0.75, 3.3], [0.83, 3.3], [1.2, 3.3],
  [1.44, 3.3, -3.3, -2.4], [1.76, 3.3], [1.88, 3.3], [1.92, 3.3, 2.77], [3.16, 3.3], [4.09, 3.3],
  [1.64, 2.5, -1.76], [1.7, 2.65], [1.78, 2.77], [1.97, 2.3], [2.03, 2.28], [1.75, 1.95],
  [3.74, 2.16], [4.01, 2.45], [4.29, 2.29, -2.0], [4.41, 2.77], [3.85, 1.87], [3.97, 1.7],
  [2.3, 1.95], [2.6, 2.1], [2.75, 2.25], [2.85, 2.3], [3.0, 2.0], [3.3, 1.8], [2.1, 1.5],
  [4.2, 1.5], [4.5, 1.2],
  [1.68, -3.3], [1.77, -3.3], [2.9, -3.3, -1.7], [3.7, -3.3, -2.4], [4.21, -3.3], [3.97, -3.12],
  [3.99, -2.77], [3.77, -2.56, -2.0], [3.84, -2.6], [3.62, -2.3], [3.55, -2.5], [3.9, -1.85],
  [3.86, -1.7], [3.34, -2.72, -2.96], [3.14, -2.4], [3.24, -2.2], [2.67, -2.29], [2.75, -2.4],
  [2.37, -2.83], [2.43, -2.24], [2.5, -1.84], [2.11, -2.0], [2.07, -1.84], [2.19, -2.3],
  [1.88, -2.16], [1.84, -1.76], [1.46, -1.6], [5.27, -2.24], [4.58, -1.68], [4.25, -1.52],
  [4.84, -0.72], [4.66, 0.5], [4.58, 0.25], [4.74, 0.0], [4.55, -0.4], [4.5, -0.75],
  [3.05, -1.9], [2.8, -1.6], [3.4, -1.7],
  [1.56, 1.0, 0.5, 0.0, -0.5, -1.0],
  [1.64, 1.4, 0.8, 0.3, -0.2, -0.7, -1.2],
  [1.72, 1.1, 0.6, 0.1, -0.4, -0.9],
  [1.80, 1.3, 0.8, 0.3, -0.2, -0.6, -1.1],
  [1.88, 1.0, 0.5, 0.0, -0.5, -1.0, -1.3],
  [1.96, 1.2, 0.7, 0.2, -0.3, -0.8],
  [2.04, 1.4, 0.9, 0.4, -0.1, -0.6, -1.1],
  [2.12, 1.1, 0.6, 0.1, -0.4, -0.9, -1.2],
  [2.20, 1.3, 0.8, 0.3, -0.2, -0.7, -1.2],
  [2.28, 1.5, 1.0, 0.5, 0.0, -0.5, -1.0, -1.4],
  [2.36, 1.2, 0.7, 0.2, -0.3, -0.8, -1.3],
  [2.44, 1.6, 1.1, 0.6, 0.1, -0.4, -0.9, -1.4],
  [2.52, 2.0, 1.4, 0.9, 0.4, -0.1, -0.6, -1.1, -1.5],
  [2.60, 1.6, 1.1, 0.6, 0.1, -0.4, -0.9, -1.3],
  [2.68, 2.1, 1.5, 1.0, 0.5, 0.0, -0.5, -1.0, -1.4],
  [2.76, 2.3, 1.7, 1.2, 0.7, 0.2, -0.3, -0.8, -1.3],
  [2.84, 1.9, 1.4, 0.9, 0.4, -0.1, -0.6, -1.1, -1.5],
  [2.92, 2.2, 1.6, 1.1, 0.6, 0.1, -0.4, -0.9, -1.4],
  [3.00, 1.8, 1.3, 0.8, 0.3, -0.2, -0.7, -1.2],
  [3.08, 2.3, 1.5, 1.0, 0.5, 0.0, -0.5, -1.0, -1.5],
  [3.16, 1.9, 1.4, 0.9, 0.4, -0.1, -0.6, -1.1],
  [3.24, 1.6, 1.1, 0.6, 0.1, -0.4, -0.9, -1.3],
  [3.32, 1.3, 0.8, 0.3, -0.2, -0.7, -1.1],
  [3.40, 1.2, 0.7, 0.2, -0.3, -0.8, -1.0],
  [3.48, 1.4, 0.9, 0.4, -0.1, -0.6, -1.0],
  [3.56, 1.6, 1.1, 0.6, 0.1, -0.4, -0.9, -1.3],
  [3.64, 1.5, 1.0, 0.5, 0.0, -0.5, -1.0],
  [3.72, 1.4, 0.9, 0.4, -0.1, -0.6, -1.1, -1.4],
  [3.80, 1.6, 1.1, 0.6, 0.1, -0.4, -0.9, -1.3],
  [3.88, 1.3, 0.8, 0.3, -0.2, -0.7, -1.2],
  [3.96, 1.5, 1.0, 0.5, 0.0, -0.5, -1.0, -1.5],
  [4.04, 1.4, 0.9, 0.4, -0.1, -0.6, -1.1],
  [4.12, 1.2, 0.7, 0.2, -0.3, -0.8, -1.2],
  [4.20, 1.3, 0.8, 0.3, -0.2, -0.7, -1.1],
  [4.28, 1.1, 0.6, 0.1, -0.4, -0.9],
  [4.36, 1.0, 0.5, 0.0, -0.5, -1.0],
  [4.44, 0.8, 0.3, -0.2, -0.7],
  [4.52, 0.6, 0.1, -0.4],
];
const LOGC_NPDE_B_CORE: number[][] = [
  [0.67, 0.45, 0.1, -0.2], [0.73, 0.5, 0.2, -0.1], [0.79, 0.55, 0.25, -0.05, -0.35], [0.85, 0.2, -0.15],
  [1.60, 0.75, 0.25, -0.25, -0.75],
  [1.68, 0.95, 0.45, -0.05, -0.55, -1.0],
  [1.76, 0.85, 0.35, -0.15, -0.65],
  [1.84, 1.05, 0.55, 0.05, -0.45, -0.9],
  [1.92, 0.8, 0.3, -0.2, -0.7, -1.1],
  [2.00, 1.0, 0.5, 0.0, -0.5, -0.95],
  [2.08, 0.9, 0.4, -0.1, -0.6, -1.05],
  [2.16, 1.05, 0.55, 0.05, -0.45, -0.95],
  [2.24, 1.2, 0.75, 0.25, -0.25, -0.75, -1.2],
  [2.32, 1.0, 0.5, 0.0, -0.5, -1.0],
  [2.40, 1.3, 0.85, 0.35, -0.15, -0.65, -1.15],
  [2.48, 1.2, 0.7, 0.2, -0.3, -0.8, -1.25],
  [2.56, 1.35, 0.85, 0.35, -0.15, -0.65, -1.15],
  [2.64, 1.25, 0.75, 0.25, -0.25, -0.75, -1.2],
  [2.72, 1.3, 0.8, 0.3, -0.2, -0.7, -1.15],
  [2.80, 1.45, 0.95, 0.45, -0.05, -0.55, -1.05],
  [2.88, 1.2, 0.7, 0.2, -0.3, -0.8, -1.25],
  [2.96, 1.35, 0.85, 0.35, -0.15, -0.65, -1.1],
  [3.04, 1.25, 0.75, 0.25, -0.25, -0.75, -1.2],
  [3.12, 1.2, 0.7, 0.2, -0.3, -0.8],
  [3.20, 1.05, 0.55, 0.05, -0.45, -0.95],
  [3.28, 0.95, 0.45, -0.05, -0.55],
  [3.36, 0.9, 0.4, -0.1, -0.6],
  [3.44, 1.0, 0.5, 0.0, -0.5, -0.85],
  [3.52, 1.15, 0.65, 0.15, -0.35, -0.8],
  [3.60, 1.25, 0.75, 0.25, -0.25, -0.75, -1.15],
  [3.68, 1.2, 0.7, 0.2, -0.3, -0.8],
  [3.76, 1.15, 0.65, 0.15, -0.35, -0.85, -1.2],
  [3.84, 1.3, 0.8, 0.3, -0.2, -0.7, -1.1],
  [3.92, 1.1, 0.6, 0.1, -0.4, -0.9, -1.25],
  [4.00, 1.2, 0.7, 0.2, -0.3, -0.8, -1.2],
  [4.08, 1.05, 0.55, 0.05, -0.45, -0.95],
  [4.16, 0.95, 0.45, -0.05, -0.55, -1.0],
  [4.24, 1.0, 0.5, 0.0, -0.5, -0.9],
  [4.32, 0.8, 0.3, -0.2, -0.7],
  [4.40, 0.65, 0.15, -0.35, -0.8],
  [4.48, 0.4, -0.1, -0.55],
];
const LOGC_NPDE_B_DENSE: number[][] = [
  [1.62, 0.7, 0.3, -0.1, -0.5],
  [1.70, 0.85, 0.45, 0.05, -0.35, -0.75],
  [1.78, 0.65, 0.25, -0.15, -0.55, -0.9],
  [1.86, 0.8, 0.4, 0.0, -0.4, -0.8],
  [1.94, 0.6, 0.2, -0.2, -0.6],
  [2.02, 0.75, 0.35, -0.05, -0.45, -0.85],
  [2.10, 0.85, 0.45, 0.05, -0.35, -0.75],
  [2.18, 0.7, 0.3, -0.1, -0.5, -0.9],
  [2.26, 1.1, 0.7, 0.3, -0.1, -0.5, -0.9],
  [2.34, 0.9, 0.5, 0.1, -0.3, -0.7, -1.05],
  [2.42, 1.05, 0.65, 0.25, -0.15, -0.55, -0.95],
  [2.50, 1.15, 0.75, 0.35, -0.05, -0.45, -0.85, -1.2],
  [2.58, 0.95, 0.55, 0.15, -0.25, -0.65, -1.05],
  [2.66, 1.2, 0.8, 0.4, 0.0, -0.4, -0.8, -1.15],
  [2.74, 1.0, 0.6, 0.2, -0.2, -0.6, -1.0],
  [2.82, 1.15, 0.75, 0.35, -0.05, -0.45, -0.85, -1.2],
  [2.90, 0.95, 0.55, 0.15, -0.25, -0.65, -1.05],
  [2.98, 1.1, 0.7, 0.3, -0.1, -0.5, -0.9],
  [3.06, 1.0, 0.6, 0.2, -0.2, -0.6, -1.0],
  [3.14, 0.9, 0.5, 0.1, -0.3, -0.7],
  [3.22, 0.75, 0.35, -0.05, -0.45, -0.8],
  [3.30, 0.65, 0.25, -0.15, -0.55],
  [3.38, 0.55, 0.15, -0.25, -0.65],
  [3.46, 0.7, 0.3, -0.1, -0.5],
  [3.54, 0.95, 0.55, 0.15, -0.25, -0.65, -1.0],
  [3.62, 1.05, 0.65, 0.25, -0.15, -0.55, -0.95],
  [3.70, 0.9, 0.5, 0.1, -0.3, -0.7, -1.05],
  [3.78, 1.0, 0.6, 0.2, -0.2, -0.6, -1.0],
  [3.86, 0.95, 0.55, 0.15, -0.25, -0.65, -1.05],
  [3.94, 1.05, 0.65, 0.25, -0.15, -0.55, -0.95],
  [4.02, 0.9, 0.5, 0.1, -0.3, -0.7, -1.05],
  [4.10, 0.8, 0.4, 0.0, -0.4, -0.8],
  [4.18, 0.85, 0.45, 0.05, -0.35, -0.75],
  [4.26, 0.7, 0.3, -0.1, -0.5],
  [4.34, 0.55, 0.15, -0.25, -0.6],
  [4.42, 0.45, 0.05, -0.35],
];

const LOGC_NPDE_C: number[][] = [
  [0.34, 0.71], [0.51, 3.28], [0.63, 1.62], [1.08, 0.35], [1.46, -0.47], [1.52, 0.16],
  [1.47, -2.79], [1.59, 0.82], [1.69, 1.53], [1.78, 1.26], [1.74, -0.94], [1.86, 0.7],
  [1.92, 1.0], [1.95, 1.1], [1.98, 0.6], [2.07, 3.28], [2.08, 1.21], [2.1, -0.05, -0.35],
  [2.14, 2.6], [2.13, 2.3], [2.25, 0.8], [2.3, 0.5], [2.34, 0.1], [2.48, 3.28], [2.5, 3.28],
  [2.54, 3.28], [2.66, 3.28], [2.97, 3.28], [3.33, 3.28], [3.73, 3.28], [3.77, 3.28],
  [2.45, 2.08, -1.1], [2.72, 2.05], [2.6, 2.94, -3.26], [3.85, 2.96], [3.41, 2.76], [3.36, 2.39],
  [3.65, 2.55], [3.26, 2.1, -3.26], [3.3, 2.0, -3.26], [3.51, 2.08], [4.12, 2.2], [3.15, 1.9],
  [3.7, 1.9], [4.05, 1.6], [4.25, 1.55], [4.4, 1.65], [4.5, 1.3], [4.6, 1.0], [2.5, 1.5],
  [2.55, -1.6, -3.04], [2.65, -1.4], [2.8, -1.1], [2.94, -1.97, -3.26], [3.05, -1.4], [3.2, -1.65, -2.7],
  [3.35, -1.75], [3.45, -1.6], [3.53, -2.05], [3.59, -2.05], [3.68, -2.76], [3.8, -2.55],
  [3.9, -2.1], [3.75, -2.25], [3.86, -1.9], [4.2, -1.45], [4.3, -1.3], [4.45, -1.5],
  [4.48, -1.65, -2.79], [3.04, -3.26], [3.12, -3.26], [3.42, -3.26], [3.55, -3.26],
  [3.25, -2.65], [3.33, -2.44], [4.96, -0.47], [5.0, 0.28], [5.19, 0.79], [5.43, -1.15],
  [4.7, 0.75], [4.75, 0.55],
  [2.46, 1.0, 0.5, 0.0, -0.5, -1.0],
  [2.52, 1.6, 1.2, 0.7, 0.2, -0.3, -0.8, -1.2, -1.6],
  [2.58, 1.3, 0.8, 0.3, -0.2, -0.7, -1.1],
  [2.64, 1.0, 0.5, 0.0, -0.5, -0.9, -1.4],
  [2.70, 1.4, 0.9, 0.4, -0.1, -0.6, -1.0],
  [2.76, 1.1, 0.6, 0.1, -0.4, -0.8],
  [2.82, 0.9, 0.4, -0.1, -0.6, -1.0],
  [2.88, 1.2, 0.7, 0.2, -0.3, -0.7],
  [2.94, 1.7, 1.0, 0.5, 0.0, -0.5, -0.9, -1.2],
  [3.00, 1.4, 0.9, 0.4, -0.1, -0.6, -1.0],
  [3.06, 1.9, 1.2, 0.7, 0.2, -0.3, -0.8, -1.2],
  [3.12, 2.1, 1.5, 1.0, 0.5, 0.0, -0.5, -0.9, -1.3],
  [3.18, 1.8, 1.3, 0.8, 0.3, -0.2, -0.7, -1.1, -1.6],
  [3.24, 2.0, 1.4, 0.9, 0.4, -0.1, -0.6, -1.0],
  [3.30, 1.7, 1.2, 0.7, 0.2, -0.3, -0.8, -1.2, -1.7],
  [3.36, 1.5, 1.0, 0.5, 0.0, -0.5, -1.0, -1.4],
  [3.42, 1.6, 1.1, 0.6, 0.1, -0.4, -0.9, -1.3],
  [3.48, 1.9, 1.3, 0.8, 0.3, -0.2, -0.7, -1.2, -1.6],
  [3.54, 1.5, 1.0, 0.5, 0.0, -0.5, -1.0, -1.5],
  [3.60, 1.7, 1.2, 0.7, 0.2, -0.3, -0.8, -1.3, -1.8],
  [3.66, 1.4, 0.9, 0.4, -0.1, -0.6, -1.1, -1.6, -2.1],
  [3.72, 1.6, 1.1, 0.6, 0.1, -0.4, -0.9, -1.4, -1.9],
  [3.78, 1.3, 0.8, 0.3, -0.2, -0.7, -1.2, -1.7, -2.3],
  [3.84, 1.5, 1.0, 0.5, 0.0, -0.5, -1.0, -1.5],
  [3.90, 1.2, 0.7, 0.2, -0.3, -0.8, -1.3],
  [3.96, 1.1, 0.6, 0.1, -0.4, -0.9, -1.3],
  [4.02, 1.3, 0.8, 0.3, -0.2, -0.7, -1.1],
  [4.08, 1.0, 0.5, 0.0, -0.5, -1.0, -1.3],
  [4.14, 1.4, 0.9, 0.4, -0.1, -0.6, -1.0],
  [4.20, 1.1, 0.6, 0.1, -0.4, -0.9],
  [4.26, 1.5, 0.8, 0.3, -0.2, -0.7, -1.2],
  [4.32, 1.0, 0.5, 0.0, -0.5, -1.0],
  [4.38, 1.2, 0.7, 0.2, -0.3, -0.8],
  [4.44, 0.9, 0.4, -0.1, -0.6, -1.1],
  [4.50, 0.7, 0.3, -0.2, -0.6],
  [4.56, 0.6, 0.2, -0.2, -0.5],
  [4.62, 0.5, 0.1, -0.3],
  [4.68, 0.6, 0.2, -0.2, -0.4],
  [4.74, 0.4, 0.0, -0.3],
];
const LOGC_NPDE_C_CORE: number[][] = [
  [2.49, 0.75, 0.25, -0.25, -0.75],
  [2.55, 0.95, 0.45, -0.05, -0.55, -0.95],
  [2.61, 0.8, 0.3, -0.2, -0.7],
  [2.67, 1.05, 0.55, 0.05, -0.45, -0.85],
  [2.73, 0.85, 0.35, -0.15, -0.6, -1.0],
  [2.79, 1.0, 0.5, 0.0, -0.5],
  [2.85, 0.8, 0.3, -0.2, -0.65, -0.95],
  [2.91, 1.1, 0.6, 0.1, -0.4, -0.85],
  [2.97, 1.25, 0.75, 0.25, -0.25, -0.75, -1.1],
  [3.03, 1.35, 0.85, 0.35, -0.15, -0.65, -1.05],
  [3.09, 1.45, 0.95, 0.45, -0.05, -0.55, -1.05],
  [3.15, 1.3, 0.8, 0.3, -0.2, -0.7, -1.15],
  [3.21, 1.5, 1.0, 0.5, 0.0, -0.5, -0.95, -1.3],
  [3.27, 1.35, 0.85, 0.35, -0.15, -0.65, -1.05],
  [3.33, 1.45, 0.95, 0.45, -0.05, -0.55, -1.0, -1.4],
  [3.39, 1.3, 0.8, 0.3, -0.2, -0.7, -1.15],
  [3.45, 1.4, 0.9, 0.4, -0.1, -0.6, -1.05, -1.45],
  [3.51, 1.5, 1.0, 0.5, 0.0, -0.5, -0.95, -1.35],
  [3.57, 1.45, 0.95, 0.45, -0.05, -0.55, -1.05, -1.55],
  [3.63, 1.35, 0.85, 0.35, -0.15, -0.65, -1.15, -1.65],
  [3.69, 1.5, 1.0, 0.5, 0.0, -0.5, -1.0, -1.45, -1.85],
  [3.75, 1.4, 0.9, 0.4, -0.1, -0.6, -1.1, -1.55],
  [3.81, 1.3, 0.8, 0.3, -0.2, -0.7, -1.2, -1.6],
  [3.87, 1.25, 0.75, 0.25, -0.25, -0.75, -1.25],
  [3.93, 1.35, 0.85, 0.35, -0.15, -0.65, -1.1],
  [3.99, 1.2, 0.7, 0.2, -0.3, -0.8, -1.15],
  [4.05, 1.15, 0.65, 0.15, -0.35, -0.85, -1.2],
  [4.11, 1.2, 0.7, 0.2, -0.3, -0.8],
  [4.17, 1.05, 0.55, 0.05, -0.45, -0.95, -1.2],
  [4.23, 1.15, 0.65, 0.15, -0.35, -0.85],
  [4.29, 1.0, 0.5, 0.0, -0.5, -0.95],
  [4.35, 0.95, 0.45, -0.05, -0.55, -1.0],
  [4.41, 0.8, 0.35, -0.15, -0.65],
  [4.47, 0.55, 0.1, -0.35, -0.75],
  [4.53, 0.45, 0.05, -0.35],
  [4.59, 0.4, 0.0, -0.4],
  [4.65, 0.35, -0.05, -0.45],
  [4.71, 0.3, -0.1],
];
const LOGC_NPDE_C_DENSE: number[][] = [
  [2.90, 0.9, 0.5, 0.1, -0.3, -0.7],
  [2.96, 1.0, 0.6, 0.2, -0.2, -0.6],
  [3.02, 1.2, 0.8, 0.4, 0.0, -0.4, -0.8],
  [3.08, 1.05, 0.65, 0.25, -0.15, -0.55, -0.95],
  [3.14, 1.2, 0.8, 0.4, 0.0, -0.4, -0.8, -1.1],
  [3.20, 1.1, 0.7, 0.3, -0.1, -0.5, -0.9],
  [3.26, 1.25, 0.85, 0.45, 0.05, -0.35, -0.75, -1.1],
  [3.32, 1.15, 0.75, 0.35, -0.05, -0.45, -0.85],
  [3.38, 1.2, 0.8, 0.4, 0.0, -0.4, -0.8, -1.15],
  [3.44, 1.1, 0.7, 0.3, -0.1, -0.5, -0.9, -1.2],
  [3.50, 1.25, 0.85, 0.45, 0.05, -0.35, -0.75, -1.15],
  [3.56, 1.2, 0.8, 0.4, 0.0, -0.4, -0.8, -1.2, -1.5],
  [3.62, 1.25, 0.85, 0.45, 0.05, -0.35, -0.75, -1.15, -1.55],
  [3.68, 1.15, 0.75, 0.35, -0.05, -0.45, -0.85, -1.25, -1.6],
  [3.74, 1.25, 0.85, 0.45, 0.05, -0.35, -0.75, -1.15, -1.5],
  [3.80, 1.1, 0.7, 0.3, -0.1, -0.5, -0.9, -1.3],
  [3.86, 1.2, 0.8, 0.4, 0.0, -0.4, -0.8, -1.2],
  [3.92, 1.05, 0.65, 0.25, -0.15, -0.55, -0.95],
  [3.98, 0.9, 0.5, 0.1, -0.3, -0.7, -1.05],
  [4.04, 1.0, 0.6, 0.2, -0.2, -0.6, -1.0],
  [4.10, 0.85, 0.45, 0.05, -0.35, -0.75],
  [4.16, 0.95, 0.55, 0.15, -0.25, -0.65, -1.0],
  [4.22, 0.85, 0.45, 0.05, -0.35, -0.75],
  [4.28, 0.9, 0.5, 0.1, -0.3, -0.7],
  [4.34, 0.75, 0.35, -0.05, -0.45, -0.85],
  [4.40, 0.7, 0.3, -0.1, -0.5],
  [4.46, 0.5, 0.1, -0.3, -0.6],
  [4.52, 0.35, -0.05, -0.4],
  [4.58, 0.3, -0.1, -0.45],
  [4.64, 0.25, -0.15],
  [4.70, 0.2, -0.2],
];

// ---------------- LAYOUT ----------------
const FONT = "'Liberation Sans', Arial, Helvetica, sans-serif";
const INK = "#222";
const TICK_FONT = 17.5;
const LAB_FONT = 20.5;
const ROW_TOP = [62, 396.7, 731];
const H_TALL = 183;
const H_SHORT = 157.5;
const COLS = [
  [96.5, 406.5],
  [532, 853],
  [978, 1299],
];
const TICK_LEN = 8;
const PT_R = 4.2;
const PT_W = 1.25;

function flatten(cols: number[][]): [number, number][] {
  const out: [number, number][] = [];
  for (const c of cols) for (let i = 1; i < c.length; i++) out.push([c[0], c[i]]);
  return out;
}

function fmt(v: number) {
  return v < 0 ? "\u2212" + String(-v) : String(v);
}

type AxesProps = {
  x0: number; x1: number; y0: number; y1: number;
  xs: d3.ScaleLinear<number, number>;
  ys: d3.ScaleLinear<number, number>;
  xTicks: number[]; xLabels: string[];
  yTicks: number[]; yLabelRight: number;
};

function Axes({ x0, x1, y0, y1, xs, ys, xTicks, xLabels, yTicks, yLabelRight }: AxesProps) {
  return (
    <g>
      <rect x={x0} y={y0} width={x1 - x0} height={y1 - y0} fill="none" stroke="#333" strokeWidth={1} />
      {xTicks.map((t, i) => {
        const px = xs(t);
        return (
          <g key={"x" + i}>
            <line x1={px} x2={px} y1={y0 - TICK_LEN} y2={y0} stroke="#333" />
            <line x1={px} x2={px} y1={y1} y2={y1 + TICK_LEN} stroke="#333" />
            {xLabels[i] ? (
              <text x={px} y={y1 + 30} textAnchor="middle" fontSize={TICK_FONT} fill={INK} fontFamily={FONT}>
                {xLabels[i]}
              </text>
            ) : null}
          </g>
        );
      })}
      {yTicks.map((t, i) => {
        const py = ys(t);
        return (
          <g key={"y" + i}>
            <line x1={x0 - TICK_LEN} x2={x0} y1={py} y2={py} stroke="#333" />
            <line x1={x1} x2={x1 + TICK_LEN} y1={py} y2={py} stroke="#333" />
            <text x={yLabelRight} y={py + 6} textAnchor="end" fontSize={TICK_FONT} fill={INK} fontFamily={FONT}>
              {fmt(t)}
            </text>
          </g>
        );
      })}
    </g>
  );
}

function HistPanel({ row, counts, peak, yDomain, yTicks }: { row: number; counts: number[]; peak: number; yDomain: [number, number]; yTicks: number[] }) {
  const [x0, x1] = COLS[0];
  const y0 = ROW_TOP[row];
  const y1 = y0 + H_TALL;
  const xs = d3.scaleLinear().domain([-4.04, 4.04]).range([x0, x1]);
  const ys = d3.scaleLinear().domain(yDomain).range([y1, y0]);
  const curvePts = d3.range(CURVE_RANGE[0], CURVE_RANGE[1] + 1e-9, 0.02).map((x) => [x, peak * Math.exp(-x * x / 2)] as [number, number]);
  const line = d3.line<[number, number]>().x((d) => xs(d[0])).y((d) => ys(d[1]));
  return (
    <g>
      {counts.map((c, i) => (
        <rect key={i} x={xs(HIST_BREAKS[i])} y={ys(c)} width={xs(HIST_BREAKS[i + 1]) - xs(HIST_BREAKS[i])} height={ys(0) - ys(c)} fill="#fff" stroke="#111" strokeWidth={1} />
      ))}
      <path d={line(curvePts) || ""} fill="none" stroke="#111" strokeWidth={1.6} />
      <Axes x0={x0} x1={x1} y0={y0} y1={y1} xs={xs} ys={ys} xTicks={HIST_X_TICKS} xLabels={HIST_X_TICKS.map(fmt)} yTicks={yTicks} yLabelRight={87} />
      <text x={(x0 + x1) / 2} y={y1 + 60} textAnchor="middle" fontSize={LAB_FONT} fill={INK} fontFamily={FONT}>NPDE</text>
      <text transform={`translate(27,${(y0 + y1) / 2}) rotate(-90)`} textAnchor="middle" fontSize={LAB_FONT} fill={INK} fontFamily={FONT}>Frequency</text>
    </g>
  );
}

function ScatterPanel({ row, col, data, xDomain, xTicks, xLabels, short }: { row: number; col: number; data: number[][]; xDomain: [number, number]; xTicks: number[]; xLabels: string[]; short: boolean }) {
  const [x0, x1] = COLS[col];
  const y0 = ROW_TOP[row];
  const y1 = y0 + (short ? H_SHORT : H_TALL);
  const yLim = short ? 3.78 : 3.79;
  const xs = d3.scaleLinear().domain(xDomain).range([x0, x1]);
  const ys = d3.scaleLinear().domain([-yLim, yLim]).range([y1, y0]);
  const pts = flatten(data);
  const yLabRight = col === 1 ? 515 : 960;
  const ylabX = col === 1 ? 483 : 923;
  return (
    <g>
      <Axes x0={x0} x1={x1} y0={y0} y1={y1} xs={xs} ys={ys} xTicks={xTicks} xLabels={xLabels} yTicks={NPDE_TICKS} yLabelRight={yLabRight} />
      <line x1={x0} x2={x1} y1={ys(0)} y2={ys(0)} stroke="#222" strokeDasharray="5,4" />
      <line x1={x0} x2={x1} y1={ys(NPDE_REF)} y2={ys(NPDE_REF)} stroke="#444" strokeDasharray="1,3" />
      <line x1={x0} x2={x1} y1={ys(-NPDE_REF)} y2={ys(-NPDE_REF)} stroke="#444" strokeDasharray="1,3" />
      <g>
        {pts.map((p, i) => (
          <circle key={i} cx={xs(p[0])} cy={ys(p[1])} r={PT_R} fill="none" stroke="#111" strokeWidth={PT_W} />
        ))}
      </g>
      {col === 1 ? (
        <text x={694} y={y1 + 59} textAnchor="middle" fontSize={LAB_FONT} fill={INK} fontFamily={FONT}>TIME(min)</text>
      ) : (
        <g>
          <text x={1147} y={y1 + 63} textAnchor="middle" fontSize={LAB_FONT} fill={INK} fontFamily={FONT}>Log of individually predicted</text>
          <text x={1151} y={y1 + 89} textAnchor="middle" fontSize={LAB_FONT} fill={INK} fontFamily={FONT}>concentation (ng/mL)</text>
        </g>
      )}
      <text transform={`translate(${ylabX},${(y0 + y1) / 2}) rotate(-90)`} textAnchor="middle" fontSize={LAB_FONT} fill={INK} fontFamily={FONT}>NPDE</text>
    </g>
  );
}

const TITLES: [string, string][] = [
  ["A", "Morphine from Model I"],
  ["B", "Morphine from Model II"],
  ["C", "M3G from Model II"],
];

export default function App() {
  return (
    <div style={{ position: "absolute", left: 0, top: 0 }}>
      <svg width={1310} height={980} viewBox="0 0 1310 980" style={{ display: "block", background: "#fff" }}>
        <rect x={0} y={0} width={1310} height={980} fill="#fff" />
        {TITLES.map((t, r) => (
          <text key={r} x={685} y={ROW_TOP[r] - 31} textAnchor="middle" fontFamily={FONT} fontWeight="bold" fill="#111">
            <tspan fontSize={27}>{t[0]}</tspan>
            <tspan fontSize={23} dx={9}>{t[1]}</tspan>
          </text>
        ))}
        <HistPanel row={0} counts={HIST_COUNTS_A} peak={CURVE_PEAK_A} yDomain={[-30, 469]} yTicks={FREQ_TICKS_A} />
        <HistPanel row={1} counts={HIST_COUNTS_B} peak={CURVE_PEAK_B} yDomain={[-24, 392]} yTicks={FREQ_TICKS_BC} />
        <HistPanel row={2} counts={HIST_COUNTS_C} peak={CURVE_PEAK_C} yDomain={[-23, 365]} yTicks={FREQ_TICKS_BC} />
        <ScatterPanel row={0} col={1} data={[...TIME_NPDE_A, ...TIME_NPDE_A_CORE]} xDomain={[-805, 12792]} xTicks={TIME_TICKS_AB} xLabels={TIME_LABELS_AB} short={false} />
        <ScatterPanel row={1} col={1} data={[...TIME_NPDE_B, ...TIME_NPDE_B_CORE]} xDomain={[-805, 12792]} xTicks={TIME_TICKS_AB} xLabels={TIME_LABELS_AB} short={false} />
        <ScatterPanel row={2} col={1} data={[...TIME_NPDE_C, ...TIME_NPDE_C_CORE]} xDomain={[-1551, 23724]} xTicks={TIME_TICKS_C} xLabels={TIME_LABELS_C} short={false} />
        <ScatterPanel row={0} col={2} data={[...LOGC_NPDE_A, ...LOGC_NPDE_A_CORE, ...LOGC_NPDE_A_DENSE]} xDomain={[-1.007, 5.871]} xTicks={LOGC_TICKS_A} xLabels={LOGC_LABELS_A} short={true} />
        <ScatterPanel row={1} col={2} data={[...LOGC_NPDE_B, ...LOGC_NPDE_B_CORE, ...LOGC_NPDE_B_DENSE]} xDomain={[-1.893, 5.732]} xTicks={LOGC_TICKS_B} xLabels={LOGC_LABELS_B} short={true} />
        <ScatterPanel row={2} col={2} data={[...LOGC_NPDE_C, ...LOGC_NPDE_C_CORE, ...LOGC_NPDE_C_DENSE]} xDomain={[-0.0104, 5.78]} xTicks={LOGC_TICKS_C} xLabels={LOGC_LABELS_C} short={true} />
      </svg>
    </div>
  );
}
